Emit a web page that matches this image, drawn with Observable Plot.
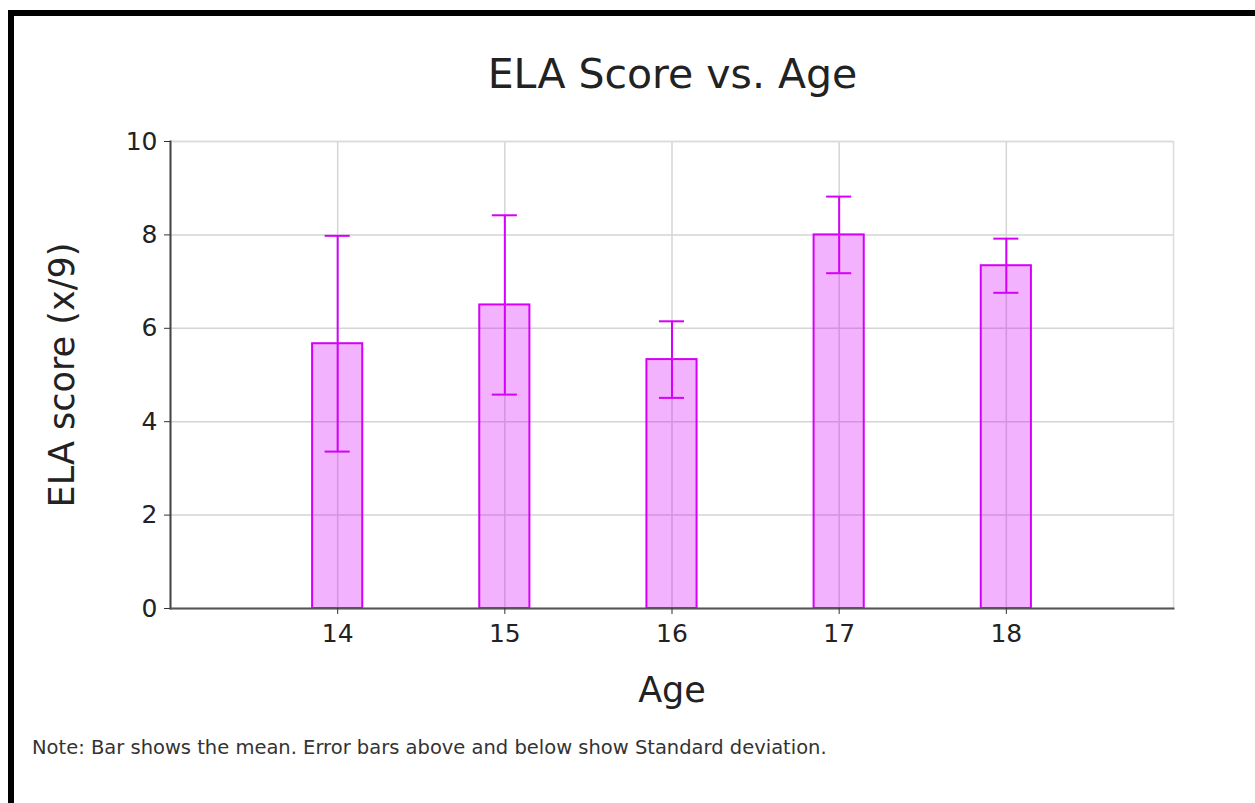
<!DOCTYPE html>
<html>
<head>
<meta charset="utf-8">
<script src="https://cdn.jsdelivr.net/npm/d3@7"></script>
<script src="https://cdn.jsdelivr.net/npm/@observablehq/plot@0.6"></script>
<style>
  html, body { margin: 0; padding: 0; background: #fff; overflow: hidden; width: 1255px; height: 803px; }
  body { position: relative; font-family: "DejaVu Sans", sans-serif; }
  #box { position: absolute; left: 8px; top: 10px; width: 2000px; height: 2000px; border-top: 6px solid #000; border-left: 6px solid #000; }
  #title { position: absolute; left: 0; width: 1345px; top: 48px; text-align: center; font-size: 41px; color: #222; line-height: 52px; }
  #chart { position: absolute; left: 0; top: 120px; }
  #note { position: absolute; left: 32px; top: 736px; font-size: 19.5px; color: #333; line-height: 24px; }
</style>
</head>
<body>
<div id="box"></div>
<div id="title">ELA Score vs. Age</div>
<div id="chart"></div>
<div id="note">Note: Bar shows the mean. Error bars above and below show Standard deviation.</div>
<script>
const ages = [14, 15, 16, 17, 18];
const means = [5.67, 6.5, 5.33, 8.0, 7.34];
const sds = [2.31, 1.92, 0.82, 0.82, 0.58];
const yTicks = [0, 2, 4, 6, 8, 10];

const data = ages.map((a, i) => ({age: a, mean: means[i], sd: sds[i]}));
const barHalf = 0.15, capHalf = 0.075;
const violet = "#d500f9";

const chart = Plot.plot({
  width: 1255,
  height: 600,
  marginLeft: 170,
  marginRight: 82,
  marginTop: 21,
  marginBottom: 112,
  style: {fontFamily: "DejaVu Sans, sans-serif", fontSize: "25px", color: "#222", background: "transparent"},
  x: {domain: [13, 19], label: null},
  y: {domain: [0, 10], label: null},
  marks: [
    Plot.gridX(ages, {stroke: "#d4d4d4", strokeOpacity: 1, strokeWidth: 1.5}),
    Plot.gridY(yTicks, {stroke: "#d4d4d4", strokeOpacity: 1, strokeWidth: 1.5}),
    Plot.frame({stroke: "#dcdcdc", strokeWidth: 1.5}),
    Plot.rectY(data, {x1: d => d.age - barHalf, x2: d => d.age + barHalf, y1: 0, y2: "mean", fill: violet, fillOpacity: 0.3, stroke: violet, strokeWidth: 2}),
    Plot.ruleX(data, {x: "age", y1: d => d.mean - d.sd, y2: d => d.mean + d.sd, stroke: violet, strokeWidth: 2}),
    Plot.ruleY(data, {y: d => d.mean + d.sd, x1: d => d.age - capHalf, x2: d => d.age + capHalf, stroke: violet, strokeWidth: 2}),
    Plot.ruleY(data, {y: d => d.mean - d.sd, x1: d => d.age - capHalf, x2: d => d.age + capHalf, stroke: violet, strokeWidth: 2}),
    Plot.frame({anchor: "left", stroke: "#444", strokeWidth: 2}),
    Plot.frame({anchor: "bottom", stroke: "#555", strokeWidth: 2}),
    Plot.axisX({ticks: ages, tickFormat: d => String(d), label: null, tickSize: 6, tickPadding: 10, fontSize: 25, stroke: "#333"}),
    Plot.axisY({ticks: yTicks, label: null, tickSize: 6, tickPadding: 7, fontSize: 25, stroke: "#333"}),
    Plot.text(["ELA score (x/9)"], {frameAnchor: "left", textAnchor: "middle", rotate: -90, dx: -108, fontSize: 35, fill: "#222"}),
    Plot.text(["Age"], {frameAnchor: "bottom", dy: 82, textAnchor: "middle", lineAnchor: "middle", fontSize: 35, fill: "#222"})
  ]
});
document.getElementById("chart").appendChild(chart);
</script>
</body>
</html>
